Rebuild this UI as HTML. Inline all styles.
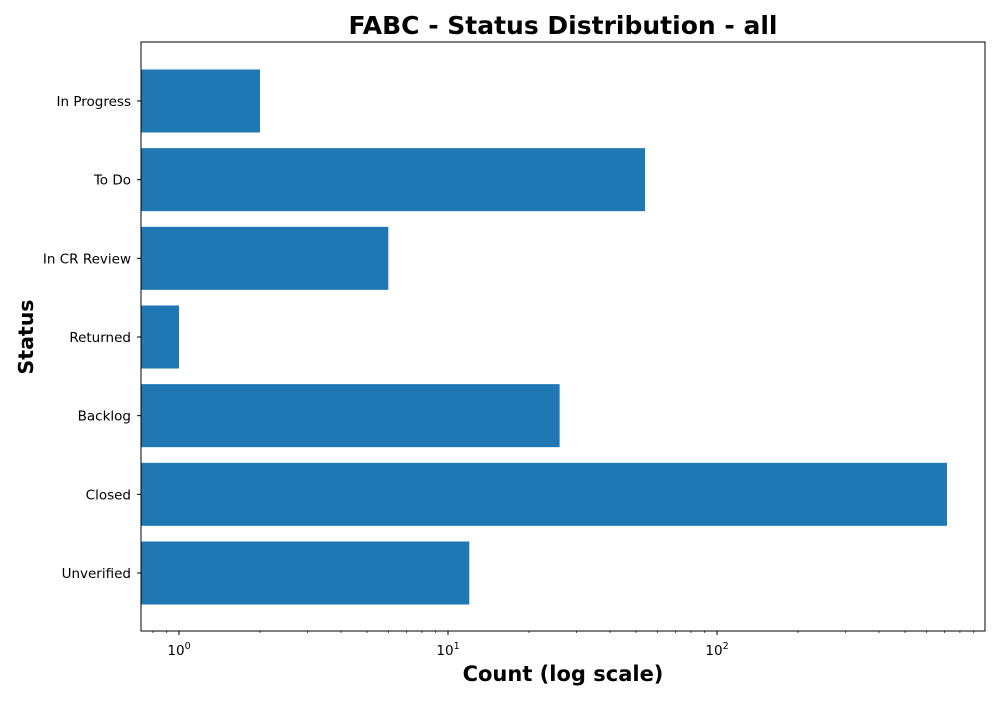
<!DOCTYPE html>
<html><head><meta charset="utf-8"><style>
body{margin:0;background:#fff;font-family:"DejaVu Sans","Liberation Sans",sans-serif;}
</style></head><body>
<svg width="1000" height="700" xmlns="http://www.w3.org/2000/svg" font-family="DejaVu Sans, Liberation Sans, sans-serif">
<rect width="1000" height="700" fill="#fff"/>
<text x="563" y="34" text-anchor="middle" font-size="25" font-weight="bold">FABC - Status Distribution - all</text>
<g id="bars"></g>
<g id="axes"></g>
<rect x="141" y="42" width="844" height="589" fill="none" stroke="#000" stroke-width="1"/>
<text x="563" y="681" text-anchor="middle" font-size="21" font-weight="bold">Count (log scale)</text>
<text transform="translate(33,337) rotate(-90)" text-anchor="middle" font-size="20.5" font-weight="bold">Status</text>
</svg>
<script>
const categories = ["Unverified","Closed","Backlog","Returned","In CR Review","To Do","In Progress"];
const counts = [12,716,26,1,6,54,2];
const xTickExps = [0,1,2];
const NS="http://www.w3.org/2000/svg";
const x0=141,x1=985;
function xs(v){return 179+Math.log10(v)*269;}
function ys(i){return 573-i*78.67;}
const bars=document.getElementById('bars'),axes=document.getElementById('axes');
function mk(tag,attrs,parent){const e=document.createElementNS(NS,tag);for(const k in attrs)e.setAttribute(k,attrs[k]);parent.appendChild(e);return e;}
categories.forEach((c,i)=>{
  const r=mk('rect',{x:x0,y:ys(i)-31.5,width:Math.max(0,xs(counts[i])-x0),height:63,fill:'#1f77b4'},bars);
  
  
  mk('line',{x1:x0,x2:x0-4,y1:ys(i),y2:ys(i),stroke:'#000'},axes);
  const t=mk('text',{x:x0-10,y:ys(i)+5,'text-anchor':'end','font-size':13.5},axes);
  t.textContent=c;
  
  
});
for(let d=-1;d<=3;d++){for(let m=1;m<10;m++){const v=m*Math.pow(10,d);const px=xs(v);if(px<x0||px>x1)continue;
  const major=m===1;
  mk('line',{x1:px,x2:px,y1:631,y2:major?635:633,stroke:'#000','stroke-width':major?1:0.7},axes);}}
xTickExps.forEach(e=>{
  const t=mk('text',{x:xs(Math.pow(10,e)),y:655,'text-anchor':'middle','font-size':13.5},axes);
  t.textContent='10';
  const s=mk('tspan',{dy:-6,'font-size':9.5},t);s.textContent=String(e);
  
  
});
</script>
</body></html>
